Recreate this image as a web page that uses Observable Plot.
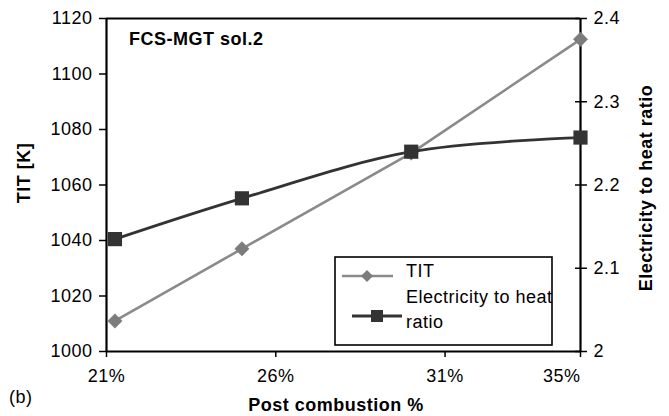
<!DOCTYPE html>
<html><head><meta charset="utf-8">
<script src="https://cdn.jsdelivr.net/npm/d3@7"></script>
<script src="https://cdn.jsdelivr.net/npm/@observablehq/plot@0.6"></script>
<style>
body{margin:0;background:#fff;}
svg{font-family:"Liberation Sans",Arial,Helvetica,sans-serif;}
svg text{letter-spacing:0.5px;}
</style>
</head><body><div id="chart"></div>
<script>
// ---- data ----
const postCombustion = [21.25, 25, 30, 35];        // Post combustion %
const titValues = [1011, 1037, 1071.5, 1112.5];    // TIT [K]
const ratioValues = [2.135, 2.184, 2.240, 2.257];  // Electricity to heat ratio
const xTicks = [21, 26, 31, 35];
const titTicks = [1000, 1020, 1040, 1060, 1080, 1100, 1120];
const ratioTicks = [2, 2.1, 2.2, 2.3, 2.4];
const seriesNames = ["TIT", "Electricity to heat", "ratio"];
const chartTitle = "FCS-MGT sol.2";
const xLabel = "Post combustion %";
const yLeftLabel = "TIT [K]";
const yRightLabel = "Electricity to heat ratio";
const panelLabel = "(b)";

// map right-axis values onto the left scale (2..2.4 -> 1000..1120)
const toLeft = v => 1000 + (v - 2) * 300;
const rows = postCombustion.map((x, i) => ({x, tit: titValues[i], ratioY: toLeft(ratioValues[i])}));

const W = 669, H = 416;
const mL = 106, mR = 89, mT = 18, mB = 65;
const titColor = "#8a8a8a", titMarker = "#7c7c7c", ratioColor = "#333333";
const fs = 18;

const chart = Plot.plot({
  width: W, height: H,
  marginLeft: mL, marginRight: mR, marginTop: mT, marginBottom: mB,
  style: {background: "#fff", color: "#000", fontSize: fs + "px"},
  x: {domain: [21, 35], axis: null},
  y: {domain: [1000, 1120], axis: null},
  marks: [
    Plot.axisY(titTicks, {anchor: "left", tickFormat: d => String(d), tickSize: 7, tickPadding: 7, fontSize: fs, label: null, strokeWidth: 1.5}),
    Plot.axisY(ratioTicks, {anchor: "right", y: toLeft, tickFormat: d => String(d), tickSize: 6, tickPadding: 7, fontSize: fs, label: null, strokeWidth: 1.5}),
    Plot.axisY(ratioTicks, {anchor: "right", y: toLeft, tickFormat: () => "", tickSize: 6, dx: -6, label: null, strokeWidth: 1.5}),
    Plot.axisX(xTicks.slice(0, 3), {anchor: "bottom", tickFormat: d => d + "%", tickSize: 6, tickPadding: 12, fontSize: fs, label: null, strokeWidth: 1.5}),
    Plot.axisX(xTicks.slice(3), {anchor: "bottom", tickFormat: d => d + "%", tickSize: 6, tickPadding: 12, fontSize: fs, label: null, textAnchor: "end", strokeWidth: 1.5}),
    Plot.ruleX([21, 35], {stroke: "#000", strokeWidth: 2.2}),
    Plot.ruleY([1000, 1120], {stroke: "#000", strokeWidth: 2.2}),
    Plot.line(rows, {x: "x", y: "tit", stroke: titColor, strokeWidth: 2.6}),
    Plot.line(rows, {x: "x", y: "ratioY", stroke: ratioColor, strokeWidth: 2.8, curve: "catmull-rom"}),
    Plot.dot(rows, {x: "x", y: "tit", symbol: "diamond2", r: 6.5, fill: titMarker, stroke: titMarker, strokeWidth: 0.5}),
    Plot.dot(rows, {x: "x", y: "ratioY", symbol: "square", r: 8, fill: ratioColor, stroke: "none"})
  ]
});

document.getElementById("chart").appendChild(chart);
const svg = d3.select(chart);

// chart title inside plot
svg.append("text").attr("x", 129).attr("y", 45).attr("text-anchor", "start").attr("font-weight", "bold").attr("font-size", fs).text(chartTitle);
// axis titles
svg.append("text").attr("transform", "translate(30,173) rotate(-90)").attr("text-anchor", "middle")
  .attr("font-weight", "bold").attr("font-size", fs).text(yLeftLabel);
svg.append("text").attr("transform", "translate(652,188) rotate(-90)").attr("text-anchor", "middle")
  .attr("font-weight", "bold").attr("font-size", fs).text(yRightLabel);
svg.append("text").attr("x", 336).attr("y", 411).attr("text-anchor", "middle")
  .attr("font-weight", "bold").attr("font-size", fs).text(xLabel);
svg.append("text").attr("x", 9).attr("y", 403).attr("text-anchor", "start").attr("font-size", fs).text(panelLabel);

// legend
const lg = svg.append("g");
lg.append("rect").attr("x", 335).attr("y", 257).attr("width", 217).attr("height", 88)
  .attr("fill", "#fff").attr("stroke", "#000").attr("stroke-width", 1.6);
lg.append("line").attr("x1", 342).attr("x2", 393).attr("y1", 276).attr("y2", 276)
  .attr("stroke", titColor).attr("stroke-width", 2.6);
lg.append("path").attr("d", "M367,270L373,276L367,282L361,276Z").attr("fill", titMarker);
lg.append("line").attr("x1", 352).attr("x2", 402).attr("y1", 316).attr("y2", 316)
  .attr("stroke", ratioColor).attr("stroke-width", 2.8);
lg.append("rect").attr("x", 371).attr("y", 310).attr("width", 12).attr("height", 12).attr("fill", ratioColor);
const lt = lg.append("g").attr("text-anchor", "start").attr("font-size", fs);
lt.append("text").attr("x", 406).attr("y", 277).text(seriesNames[0]);
lt.append("text").attr("x", 406).attr("y", 303).text(seriesNames[1]);
lt.append("text").attr("x", 406).attr("y", 328).text(seriesNames[2]);
</script>
</body></html>
